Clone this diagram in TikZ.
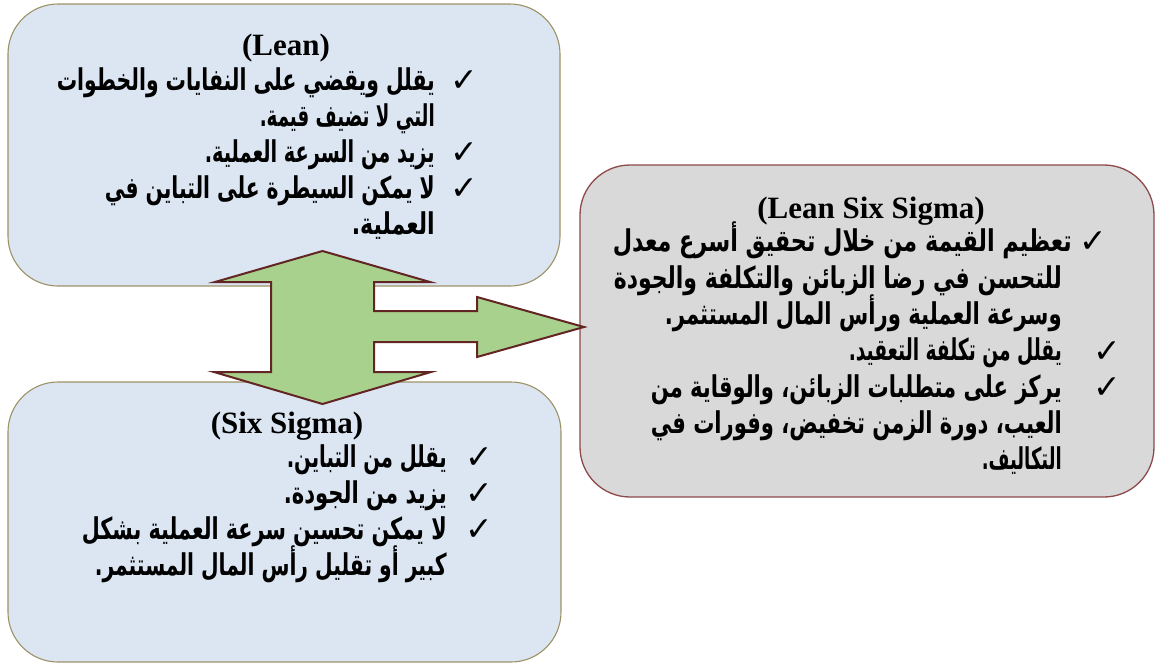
\documentclass[tikz,border=0pt]{standalone}
\usepackage{fontspec}
\usepackage{graphicx}
\setmainfont{Liberation Serif}
\newfontfamily\arabicfont[Script=Arabic]{DejaVu Sans}
\newfontfamily\symfont{DejaVu Sans}
\TeXXeTstate=1
\definecolor{boxblue}{HTML}{DCE6F2}
\definecolor{boxblueedge}{HTML}{9C9266}
\definecolor{boxgrey}{HTML}{D9D9D9}
\definecolor{boxgreyedge}{HTML}{8E4A4A}
\definecolor{arrowgreen}{HTML}{A9D18E}
\definecolor{arrowedge}{HTML}{632523}
\newcommand{\arline}[2]{\resizebox{#1pt}{\height}{\arabicfont\bfseries\fontsize{30}{36}\selectfont #2}}
\tikzset{
  bluebox/.style={fill=boxblue, draw=boxblueedge, line width=1.1pt, rounded corners=50pt},
  greybox/.style={fill=boxgrey, draw=boxgreyedge, line width=1.3pt, rounded corners=50pt},
  bigarrow/.style={fill=arrowgreen, draw=arrowedge, line width=2pt, line join=miter},
  titletext/.style={inner sep=0pt, anchor=base, font=\bfseries\fontsize{31}{36}\selectfont},
  artext/.style={inner sep=0pt, anchor=base east},
  chkmark/.style={inner sep=0pt, anchor=center, font=\symfont\fontsize{33}{36}\selectfont}
}
\begin{document}
\begin{tikzpicture}[x=1pt, y=-1pt]
\useasboundingbox (0,0) rectangle (1157,664);
% boxes
\draw[bluebox] (8,4) rectangle (560,286);
\draw[bluebox] (8,382) rectangle (561,662);
\draw[greybox] (580,165) rectangle (1154,497);
% triple arrow
\draw[bigarrow] (322.5,251) -- (430,282) -- (374,282) -- (374,311) -- (477,311) -- (477,297)
  -- (584,327) -- (477,357) -- (477,342) -- (374,342) -- (374,372) -- (431,372)
  -- (322.5,404) -- (214,372) -- (271,372) -- (271,282) -- (215,282) -- cycle;
% Lean box
\node[titletext] (leantitle) at (286,55) {(Lean)};
\node[chkmark] (lc1) at (464,81) {✓};
\node[artext] (l1) at (435,90) {\arline{378}{\beginR يقلل ويقضي على النفايات والخطوات\endR}};
\node[artext] (l2) at (435,126) {\arline{175}{\beginR التي لا تضيف قيمة.\endR}};
\node[chkmark] (lc2) at (464,153) {✓};
\node[artext] (l3) at (435,162) {\arline{230}{\beginR يزيد من السرعة العملية.\endR}};
\node[chkmark] (lc3) at (464,189) {✓};
\node[artext] (l4) at (435,198) {\arline{330}{\beginR لا يمكن السيطرة على التباين في\endR}};
\node[artext] (l5) at (435,234) {\arline{83}{\beginR العملية.\endR}};
% Six Sigma box
\node[titletext] (sixtitle) at (287,433) {(Six Sigma)};
\node[chkmark] (sc1) at (479,458) {✓};
\node[artext] (s1) at (447,467) {\arline{160}{\beginR يقلل من التباين.\endR}};
\node[chkmark] (sc2) at (479,494) {✓};
\node[artext] (s2) at (447,503) {\arline{163}{\beginR يزيد من الجودة.\endR}};
\node[chkmark] (sc3) at (479,530) {✓};
\node[artext] (s3) at (447,539) {\arline{365}{\beginR لا يمكن تحسين سرعة العملية بشكل\endR}};
\node[artext] (s4) at (447,575) {\arline{352}{\beginR كبير أو تقليل رأس المال المستثمر.\endR}};
% Lean Six Sigma box
\node[titletext] (lsstitle) at (871,218) {(Lean Six Sigma)};
\node[chkmark] (gc1) at (1093,242) {✓};
\node[artext] (g1) at (1072,251) {\arline{459}{\beginR تعظيم القيمة من خلال تحقيق أسرع معدل\endR}};
\node[artext] (g2) at (1062,288) {\arline{448}{\beginR للتحسن في رضا الزبائن والتكلفة والجودة\endR}};
\node[artext] (g3) at (1062,324) {\arline{397}{\beginR وسرعة العملية ورأس المال المستثمر.\endR}};
\node[chkmark] (gc2) at (1107,352) {✓};
\node[artext] (g4) at (1062,360) {\arline{213}{\beginR يقلل من تكلفة التعقيد.\endR}};
\node[chkmark] (gc3) at (1107,388) {✓};
\node[artext] (g5) at (1062,397) {\arline{411}{\beginR يركز على متطلبات الزبائن، والوقاية من\endR}};
\node[artext] (g6) at (1062,433) {\arline{411}{\beginR العيب، دورة الزمن تخفيض، وفورات في\endR}};
\node[artext] (g7) at (1062,469) {\arline{80}{\beginR التكاليف.\endR}};
\end{tikzpicture}
\end{document}
